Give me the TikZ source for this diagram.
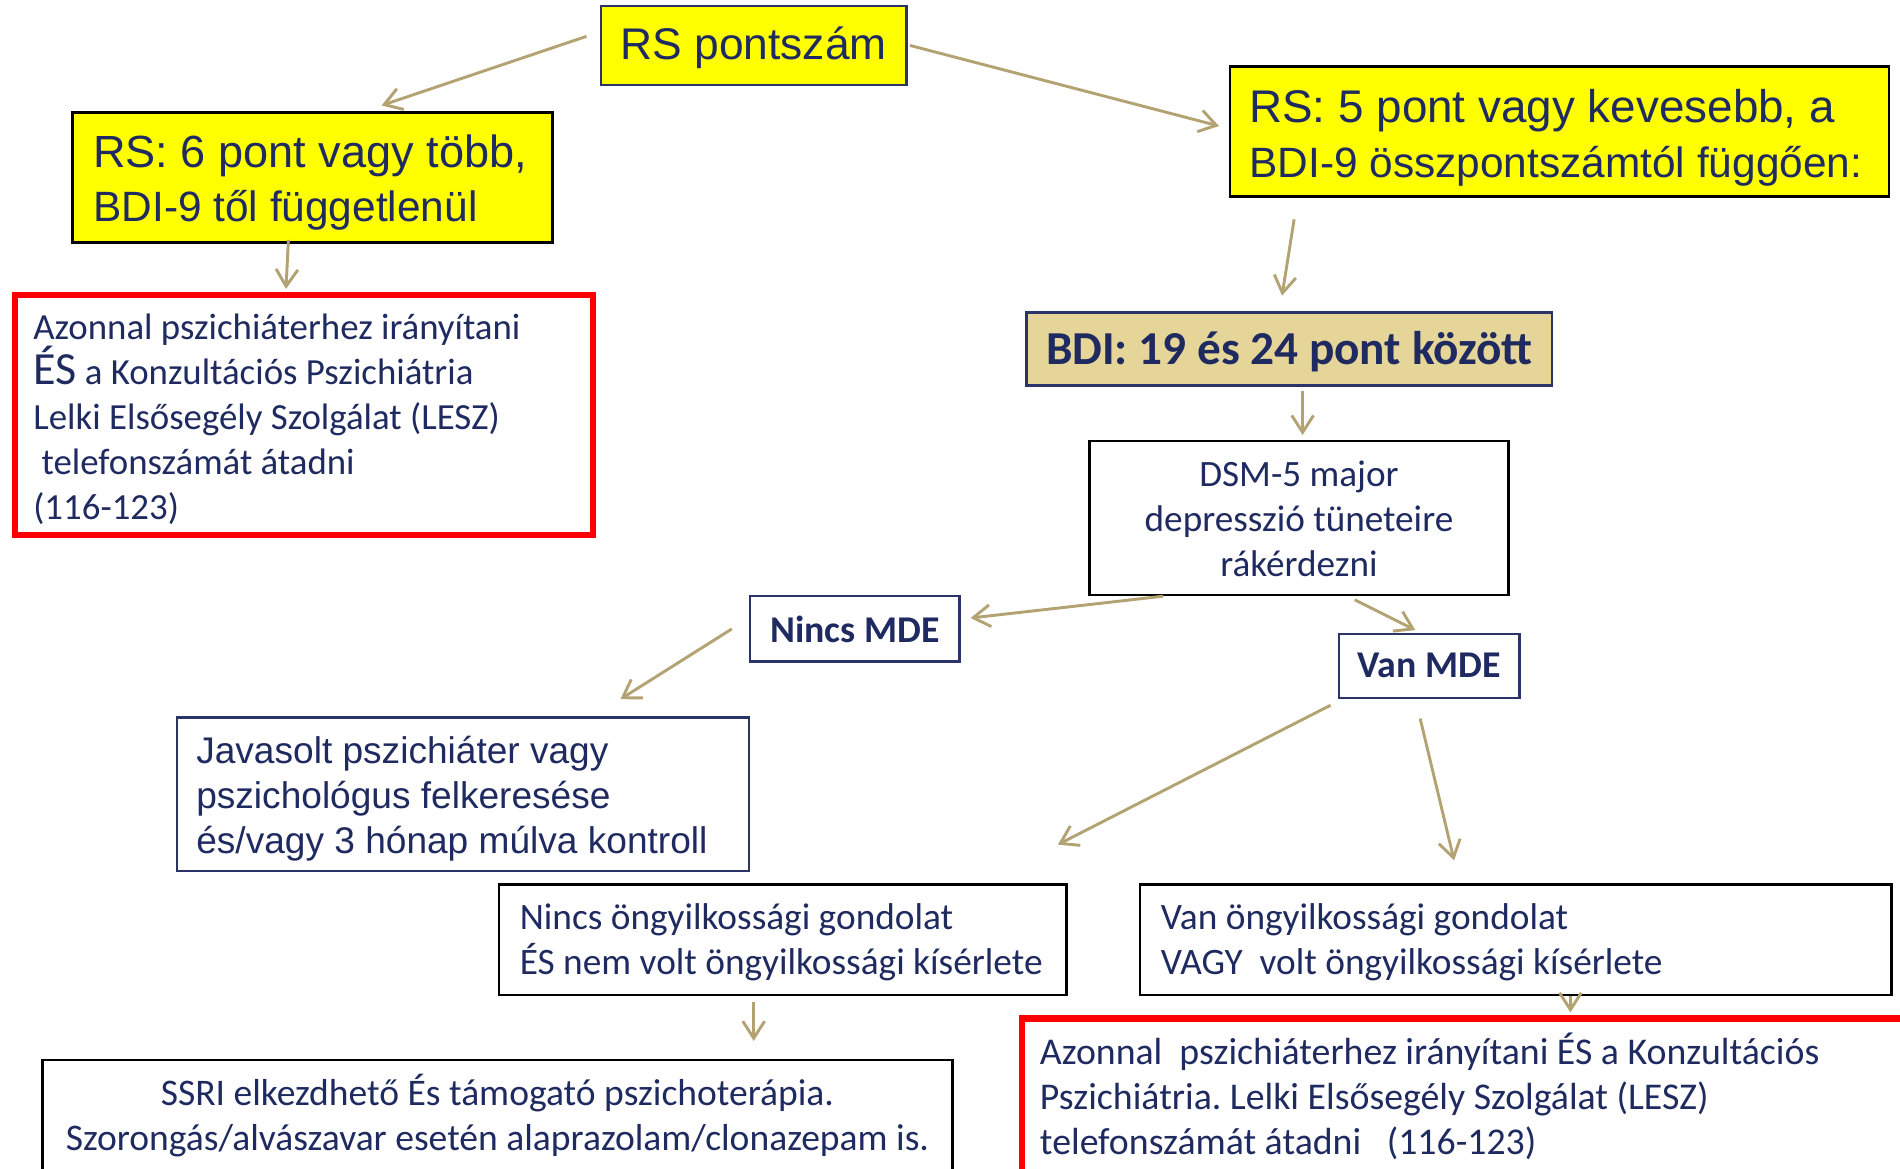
\documentclass[tikz,border=0pt]{standalone}
\usepackage{fontspec}
\setmainfont{Carlito}
\newfontfamily\arialfont{Liberation Sans}
\usetikzlibrary{arrows.meta,calc}
\frenchspacing
\definecolor{textnavy}{HTML}{1F2A60}
\definecolor{linenavy}{HTML}{2A3468}
\definecolor{arrowtan}{HTML}{B3A272}
\definecolor{bditan}{HTML}{E5D598}
\definecolor{boxyellow}{HTML}{FFFF00}
\definecolor{alertred}{HTML}{FF0000}
\newcommand{\padtop}[1]{\rule{0pt}{#1}}
\tikzset{
  base/.style={inner ysep=0pt,text=textnavy,line width=1pt},
  yellowbox/.style={base,draw=black,fill=boxyellow,align=flush left,inner xsep=8.5pt,font=\arialfont\fontsize{18.6}{22.5}\selectfont},
  rsbox/.style={base,draw=linenavy,fill=boxyellow,align=flush center,font=\arialfont\fontsize{18.3}{21}\selectfont},
  redbox/.style={base,draw=alertred,line width=2.5pt,align=flush left,inner xsep=7.5pt,font=\fontsize{15.2}{18.5}\selectfont},
  bdibox/.style={base,draw=linenavy,fill=bditan,align=flush center,font=\bfseries\fontsize{19.5}{22}\selectfont},
  mdebox/.style={base,draw=linenavy,align=flush center,font=\bfseries\fontsize{15.6}{18.5}\selectfont},
  plainbox/.style={base,draw=black,align=flush center,font=\fontsize{15.35}{18.5}\selectfont},
  leftbox/.style={base,draw=black,align=flush left,inner xsep=8.5pt,font=\fontsize{15.4}{18.5}\selectfont},
  javbox/.style={base,draw=linenavy,align=flush left,inner xsep=8pt,font=\arialfont\fontsize{15.3}{18.5}\selectfont},
  flow/.style={draw=arrowtan,line width=1.2pt,-{Straight Barb[length=7pt,width=9pt]}},
}
\begin{document}
\begin{tikzpicture}[x=0.5pt,y=-0.5pt]
  \clip (0,0) rectangle (1568,964);
  \node[rsbox,minimum width=126pt,minimum height=32.5pt] (rs) at (622,37.5) {\padtop{15pt}RS pontszám};
  \node[yellowbox,text width=181pt,minimum height=53.5pt] (six) at (258,146.5)
    {\padtop{17.6pt}RS: 6 pont vagy több,\\{\fontsize{17.5}{22.5}\selectfont BDI-9 től függetlenül}};
  \node[yellowbox,text width=256pt,inner xsep=8pt,minimum height=53.5pt] (five) at (1287,108.5)
    {{\fontsize{18.9}{22.5}\selectfont\padtop{19pt}RS: 5 pont vagy kevesebb, a}\\{\fontsize{17.5}{22.5}\selectfont BDI-9 összpontszámtól függően:}};
  \node[redbox,text width=223.5pt,minimum height=99pt] (urgentl) at (251,342.5)
    {\padtop{14pt}Azonnal pszichiáterhez irányítani\\{\fontsize{19}{18.5}\selectfont ÉS} a Konzultációs Pszichiátria\\Lelki Elsősegély Szolgálat (LESZ)\\\ telefonszámát átadni\\(116-123)};
  \node[bdibox,minimum width=217pt,minimum height=30pt] (bdi) at (1064,288) {\padtop{16pt}BDI: 19 és 24 pont között};
  \node[plainbox,minimum width=173pt,minimum height=63.5pt] (dsm) at (1072,427.5)
    {\padtop{11pt}DSM-5 major\\depresszió tüneteire\\rákérdezni};
  \node[mdebox,minimum width=86.5pt,minimum height=27pt] (nomde) at (705.5,519) {Nincs MDE};
  \node[mdebox,minimum width=74.5pt,minimum height=26.5pt] (yesmde) at (1179.5,549.5) {Van MDE};
  \node[javbox,text width=220pt,minimum height=63.5pt] (refer) at (382,655.5)
    {\padtop{15pt}Javasolt pszichiáter vagy\\pszichológus felkeresése\\és/vagy 3 hónap múlva kontroll};
  \node[leftbox,text width=217pt,minimum height=45.5pt] (nothought) at (646,775.5)
    {\padtop{13pt}Nincs öngyilkossági gondolat\\ÉS nem volt öngyilkossági kísérlete};
  \node[leftbox,text width=293pt,minimum height=45.5pt] (thought) at (1251,775.5)
    {\padtop{13pt}Van öngyilkossági gondolat\\VAGY\ \ volt öngyilkossági kísérlete};
  \node[plainbox,font=\fontsize{15.5}{18.5}\selectfont,minimum width=375.5pt,minimum height=45.5pt] (ssri) at (410.5,920.5)
    {\padtop{12pt}SSRI elkezdhető És támogató pszichoterápia.\\Szorongás/alvászavar esetén alaprazolam/clonazepam is.};
  \node[redbox,font=\fontsize{15.6}{18.5}\selectfont,text width=358pt,inner xsep=7.5pt,minimum height=64.25pt] (urgentr) at (1216.25,904.75)
    {Azonnal\ \ pszichiáterhez irányítani ÉS a Konzultációs\\Pszichiátria. Lelki Elsősegély Szolgálat (LESZ)\\telefonszámát átadni\ \ \ (116-123)};
  \draw[flow] ($(rs.west)+(-11,-7.5)$) -- ($(six.north)+(57,-5)$);
  \draw[flow] ($(rs.east)+(2,0)$) -- ($(five.west)+(-8,-4.5)$);
  \draw[flow] ($(six.south)+(-20,-3)$) -- ($(urgentl.north)+(-15,-2.5)$);
  \draw[flow] ($(five.south)+(-219,18)$) -- ($(bdi.north)+(-6,-13)$);
  \draw[flow] ($(bdi.south)+(11,4)$) -- ($(dsm.north)+(3,-4)$);
  \draw[flow] ($(dsm.south)+(-112,0)$) -- ($(nomde.east)+(8,-9)$);
  \draw[flow] ($(dsm.south)+(46,3)$) -- ($(yesmde.north)+(-11.5,-2)$);
  \draw[flow] ($(nomde.west)+(-14,0)$) -- ($(refer.north)+(130,-14)$);
  \draw[flow] ($(yesmde.south)+(-81.5,5)$) -- ($(nothought.north)+(227,-32)$);
  \draw[flow] ($(yesmde.south)+(-7.5,16)$) -- ($(thought.north)+(-51,-19)$);
  \draw[flow] ($(nothought.south)+(-24,5)$) -- ($(ssri.north)+(211.5,-15)$);
  \draw[flow] ($(thought.south)+(45,0)$) -- ($(urgentr.north)+(79.75,-2.5)$);
\end{tikzpicture}
\end{document}
